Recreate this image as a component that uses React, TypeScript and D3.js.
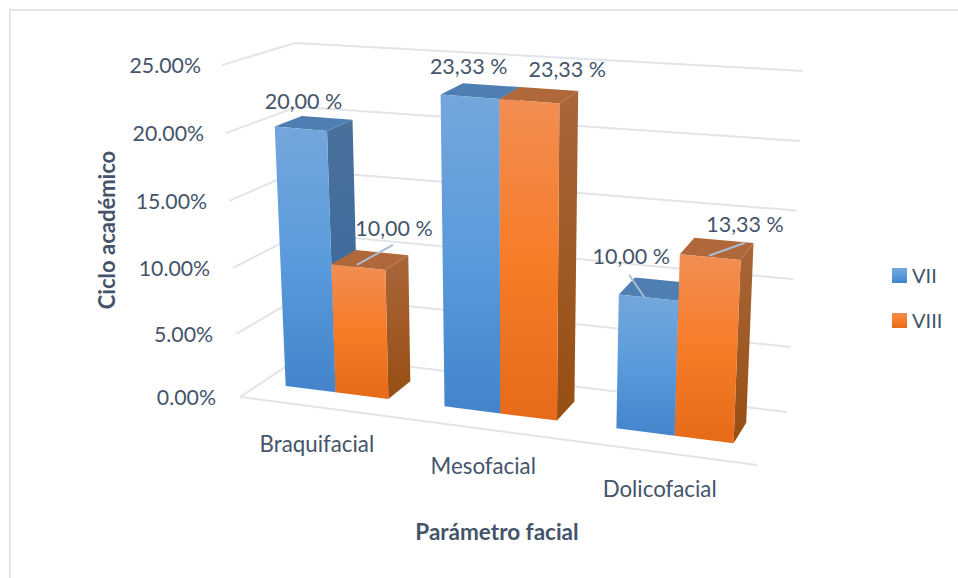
import * as d3 from "d3";
import React from "react";

const categories = ["Braquifacial", "Mesofacial", "Dolicofacial"];
const seriesNames = ["VII", "VIII"];
const valuesVII = [20, 23.33, 10];
const valuesVIII = [10, 23.33, 13.33];
const labelsVII = ["20,00 %", "23,33 %", "10,00 %"];
const labelsVIII = ["10,00 %", "23,33 %", "13,33 %"];
const yTicks = [0, 5, 10, 15, 20, 25];

const INK = "#44546a";
const GRID = "#e2e4e7";
const FONT = "Lato, 'Open Sans', sans-serif";

type Pt = [number, number];
// corners of the projected plot box
const FLB: Pt = [240, 397], FRB: Pt = [757, 465], BLB: Pt = [305, 354], BRB: Pt = [787, 412];
const FLT: Pt = [222, 65], FRT: Pt = [772, 108], BLT: Pt = [295, 43], BRT: Pt = [803, 71];

const band = d3.scaleBand<string>().domain(categories).range([0.004, 0.995]).paddingInner(0.34).paddingOuter(0.17);
const uWarp = d3.scalePow().exponent(1.08).domain([0, 1]).range([0, 1]);
const vScale = d3.scalePow().exponent(1.03).domain([0, 25]).range([0, 1]);
const tickGap = d3.scaleLinear().domain([0, 25]).range([24, 21]);

const lerp = (a: Pt, b: Pt, t: number): Pt => [a[0] + (b[0] - a[0]) * t, a[1] + (b[1] - a[1]) * t];
// t across categories, d depth (0 front, 1 back), val value
function P(t: number, d: number, val: number): Pt {
  const u = uWarp(t), v = vScale(val);
  const bottom = lerp(lerp(FLB, FRB, u), lerp(BLB, BRB, u), d);
  const top = lerp(lerp(FLT, FRT, u), lerp(BLT, BRT, u), d);
  return lerp(bottom, top, v);
}
const D0 = 0.33, D1 = 0.72;
const poly = (pts: Pt[]) => pts.map((p) => p.map((n) => n.toFixed(1)).join(",")).join(" ");
const line = d3.line();

type Bar = { i: number; s: number; value: number; label: string };
const bars: Bar[] = categories.flatMap((_, i) => [
  { i, s: 0, value: valuesVII[i], label: labelsVII[i] },
  { i, s: 1, value: valuesVIII[i], label: labelsVIII[i] },
]);

// label centre offset from the centre of the bar's top face, and optional leader ends (same origin)
const labelOffsets: Pt[] = [
  [-10, -21], [24, -31], [-12, -24], [28, -25], [-25, -32], [28, -24],
];
const leaders: ([Pt, Pt] | null)[] = [
  null,
  [[-13, 5], [23, -15]],
  null,
  null,
  [[-27, -14], [-12, 8]],
  [[-8, 7], [28, -6]],
];
const catDy = [45, 45, 44];
const catDx = [1, -1, -3];

function BarShape({ b }: { b: Bar }) {
  const t0 = band(categories[b.i])! + (b.s * band.bandwidth()) / 2;
  const t1 = t0 + band.bandwidth() / 2;
  const front: Pt[] = [P(t0, D0, b.value), P(t1, D0, b.value), P(t1, D0, 0), P(t0, D0, 0)];
  const top: Pt[] = [P(t0, D0, b.value), P(t0, D1, b.value), P(t1, D1, b.value), P(t1, D0, b.value)];
  const side: Pt[] = [P(t1, D0, b.value), P(t1, D1, b.value), P(t1, D1, 0), P(t1, D0, 0)];
  const name = b.s === 0 ? "blue" : "orange";
  return (
    <g>
      <polygon points={poly(side)} fill={`url(#${name}Side)`} />
      <polygon points={poly(top)} fill={b.s === 0 ? "#4f7fb2" : "#b0683a"} />
      <polygon points={poly(front)} fill={`url(#${name}Front)`} />
    </g>
  );
}

function topCentre(b: Bar): Pt {
  const t = band(categories[b.i])! + ((b.s + 0.5) * band.bandwidth()) / 2;
  return P(t, (D0 + D1) / 2, b.value);
}

export default function App() {
  return (
    <svg width={958} height={578} style={{ position: "absolute", left: 0, top: 0, background: "#fff" }} fontFamily={FONT}>
      <defs>
        <linearGradient id="blueFront" x1="0" y1="0" x2="0" y2="1">
          <stop offset="0" stopColor="#74a6dc" />
          <stop offset="0.5" stopColor="#5a9bdc" />
          <stop offset="1" stopColor="#4384cb" />
        </linearGradient>
        <linearGradient id="orangeFront" x1="0" y1="0" x2="0" y2="1">
          <stop offset="0" stopColor="#f28d52" />
          <stop offset="0.5" stopColor="#f67c28" />
          <stop offset="1" stopColor="#e66a18" />
        </linearGradient>
        <linearGradient id="blueSide" x1="0" y1="0" x2="0" y2="1">
          <stop offset="0" stopColor="#4a719c" />
          <stop offset="1" stopColor="#34689c" />
        </linearGradient>
        <linearGradient id="orangeSide" x1="0" y1="0" x2="0" y2="1">
          <stop offset="0" stopColor="#a9663a" />
          <stop offset="1" stopColor="#974e12" />
        </linearGradient>
      </defs>

      {/* outer frame */}
      <path d={line([[10, 578], [10, 10], [958, 10]]) as string} fill="none" stroke={GRID} strokeWidth={2} />

      {/* walls and floor */}
      {yTicks.map((v) => (
        <g key={v}>
          <path
            d={line([P(0, 0, v), P(0, 1, v), P(1, 1, v)]) as string}
            fill="none"
            stroke={GRID}
            strokeWidth={2}
          />
          <text x={P(0, 0, v)[0] - tickGap(v)} y={P(0, 0, v)[1] + 8} textAnchor="end" fontSize={21.3} fill={INK}>
            {v.toFixed(2)}%
          </text>
        </g>
      ))}
      <path d={line([P(0, 0, 0), P(1, 0, 0)]) as string} fill="none" stroke={GRID} strokeWidth={2} />

      {/* bars */}
      {bars.map((b, k) => (
        <BarShape key={k} b={b} />
      ))}

      {/* leaders and labels */}
      {bars.map((b, k) => {
        const c = topCentre(b);
        const off = labelOffsets[k];
        const lead = leaders[k];
        return (
          <g key={k}>
            {lead && (
              <path
                d={line(lead.map((o) => [c[0] + o[0], c[1] + o[1]] as Pt)) as string}
                stroke="#a9bdd4"
                strokeWidth={2}
                fill="none"
              />
            )}
            <text x={c[0] + off[0]} y={c[1] + off[1] + 7} textAnchor="middle" fontSize={21.5} fill={INK}>
              {b.label}
            </text>
          </g>
        );
      })}

      {/* category labels */}
      {categories.map((c, i) => {
        const p = P(band(c)! + band.bandwidth() / 2, 0, 0);
        return (
          <text key={c} x={p[0] + catDx[i]} y={p[1] + catDy[i]} textAnchor="middle" fontSize={22.3} fill={INK}>
            {c}
          </text>
        );
      })}

      {/* axis titles */}
      <text transform="translate(115,230) rotate(-90)" textAnchor="middle" fontSize={22} fontWeight={700} fill={INK}>
        Ciclo académico
      </text>
      <text x={497} y={540} textAnchor="middle" fontSize={22.5} fontWeight={700} fill={INK}>
        Parámetro facial
      </text>

      {/* legend */}
      {seriesNames.map((s, i) => (
        <g key={s} transform={`translate(892,${268 + i * 45})`}>
          <rect width={15} height={15} fill={i === 0 ? "url(#blueFront)" : "url(#orangeFront)"} />
          <text x={20} y={15} fontSize={20} fill={INK}>
            {s}
          </text>
        </g>
      ))}
    </svg>
  );
}
